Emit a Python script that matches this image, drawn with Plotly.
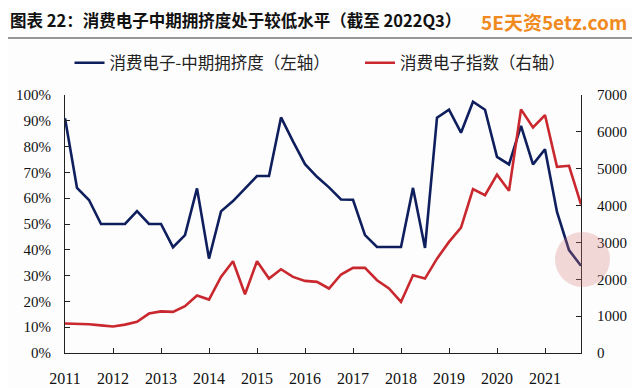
import plotly.graph_objects as go

# quarterly time axis (year + quarter fraction)
periods = [2011 + k / 4 for k in range(44)]

crowding = [0.91, 0.64, 0.593, 0.50, 0.50, 0.50, 0.55, 0.50, 0.50, 0.41,
            0.457, 0.638, 0.366, 0.549, 0.589, 0.638, 0.686, 0.686, 0.913, 0.82,
            0.732, 0.683, 0.642, 0.595, 0.594, 0.457, 0.411, 0.411, 0.411, 0.64,
            0.407, 0.912, 0.943, 0.854, 0.974, 0.943, 0.76, 0.731, 0.88, 0.731,
            0.79, 0.547, 0.399, 0.338]

index_vals = [800, 800, 780, 750, 720, 770, 845, 1070, 1130, 1115,
              1270, 1560, 1450, 2065, 2490, 1594, 2490, 2020, 2273, 2065,
              1956, 1930, 1750, 2130, 2310, 2310, 1975, 1750, 1386, 2110,
              2020, 2560, 3015, 3400, 4444, 4280, 4840, 4400, 6610, 6120,
              6456, 5050, 5080, 4030]

year_ticks = list(range(2011, 2022))
year_labels = [str(y) for y in year_ticks]
left_ticks = [i / 10 for i in range(11)]
right_ticks = list(range(0, 7001, 1000))

title_text = "图表 22：消费电子中期拥挤度处于较低水平（截至 2022Q3）"
brand_text = "5E天资5etz.com"
name_left = "消费电子-中期拥挤度（左轴）"
name_right = "消费电子指数（右轴）"

NAVY = "#0f1f5e"
RED = "#c8282e"
AX = "#222222"
serif = "Times New Roman, Liberation Serif, serif"
cjk = "Noto Sans CJK SC, sans-serif"

# the page adds an 8px body margin; the figure is sized/placed to compensate
W, H = 632, 380
L, T = 57, 87
PW, PH = 516, 258

fig = go.Figure()
fig.add_trace(go.Scatter(x=periods, y=crowding, name=name_left, mode="lines",
                         line=dict(color=NAVY, width=2.6), yaxis="y", legend="legend"))
fig.add_trace(go.Scatter(x=periods, y=index_vals, name=name_right, mode="lines",
                         line=dict(color=RED, width=2.6), yaxis="y2", legend="legend2"))

axis_common = dict(showgrid=False, zeroline=False, showline=True, linecolor=AX,
                   linewidth=1.2, ticks="inside", ticklen=5, tickcolor=AX,
                   tickfont=dict(family=serif, size=15, color="#111"))

leg_common = dict(orientation="h", y=1 + (T - 55) / PH, yanchor="middle",
                  xanchor="left", font=dict(family=cjk, size=16.5, color="#222"),
                  itemwidth=30, bgcolor="rgba(0,0,0,0)")

def px(xf):
    return (xf - L) / PW

def py(yf):
    return 1 + (T - yf) / PH

fig.update_layout(
    width=W, height=H,
    margin=dict(l=L, r=W - L - PW, t=T, b=H - T - PH, autoexpand=False),
    paper_bgcolor="#fdfdfd", plot_bgcolor="#fdfdfd",
    showlegend=True,
    legend=dict(leg_common, x=px(61.5)),
    legend2=dict(leg_common, x=px(352)),
    xaxis=dict(axis_common, range=[2011, 2021.75], tickvals=year_ticks,
               ticktext=year_labels, ticklabelstandoff=11,
               tickfont=dict(family=serif, size=16, color="#111")),
    yaxis=dict(axis_common, range=[0, 1], tickvals=left_ticks, tickformat=".0%",
               ticklabelstandoff=10),
    yaxis2=dict(axis_common, range=[0, 7000], tickvals=right_ticks, overlaying="y",
                side="right", ticklabelstandoff=12),
    annotations=[
        dict(text="<b>" + title_text + "</b>", xref="paper", yref="paper",
             x=px(0), y=py(12), xanchor="left", yanchor="middle",
             showarrow=False, font=dict(family=cjk, size=16.5, color="#111")),
        dict(text="<b>" + brand_text + "</b>", xref="paper", yref="paper",
             x=px(621), y=py(13.5), xanchor="right", yanchor="middle",
             showarrow=False, font=dict(family=cjk, size=19, color="#f08a1e")),
    ],
    shapes=[
        dict(type="line", xref="paper", yref="paper", x0=px(0), x1=px(W),
             y0=py(30), y1=py(30), line=dict(color="#333", width=1.2)),
        dict(type="circle", xref="paper", yref="paper",
             x0=px(547), x1=px(602), y0=py(279), y1=py(224),
             fillcolor="rgba(215,120,120,0.28)", line=dict(width=0), layer="above"),
    ],
)

fig.write_html("out.html")
